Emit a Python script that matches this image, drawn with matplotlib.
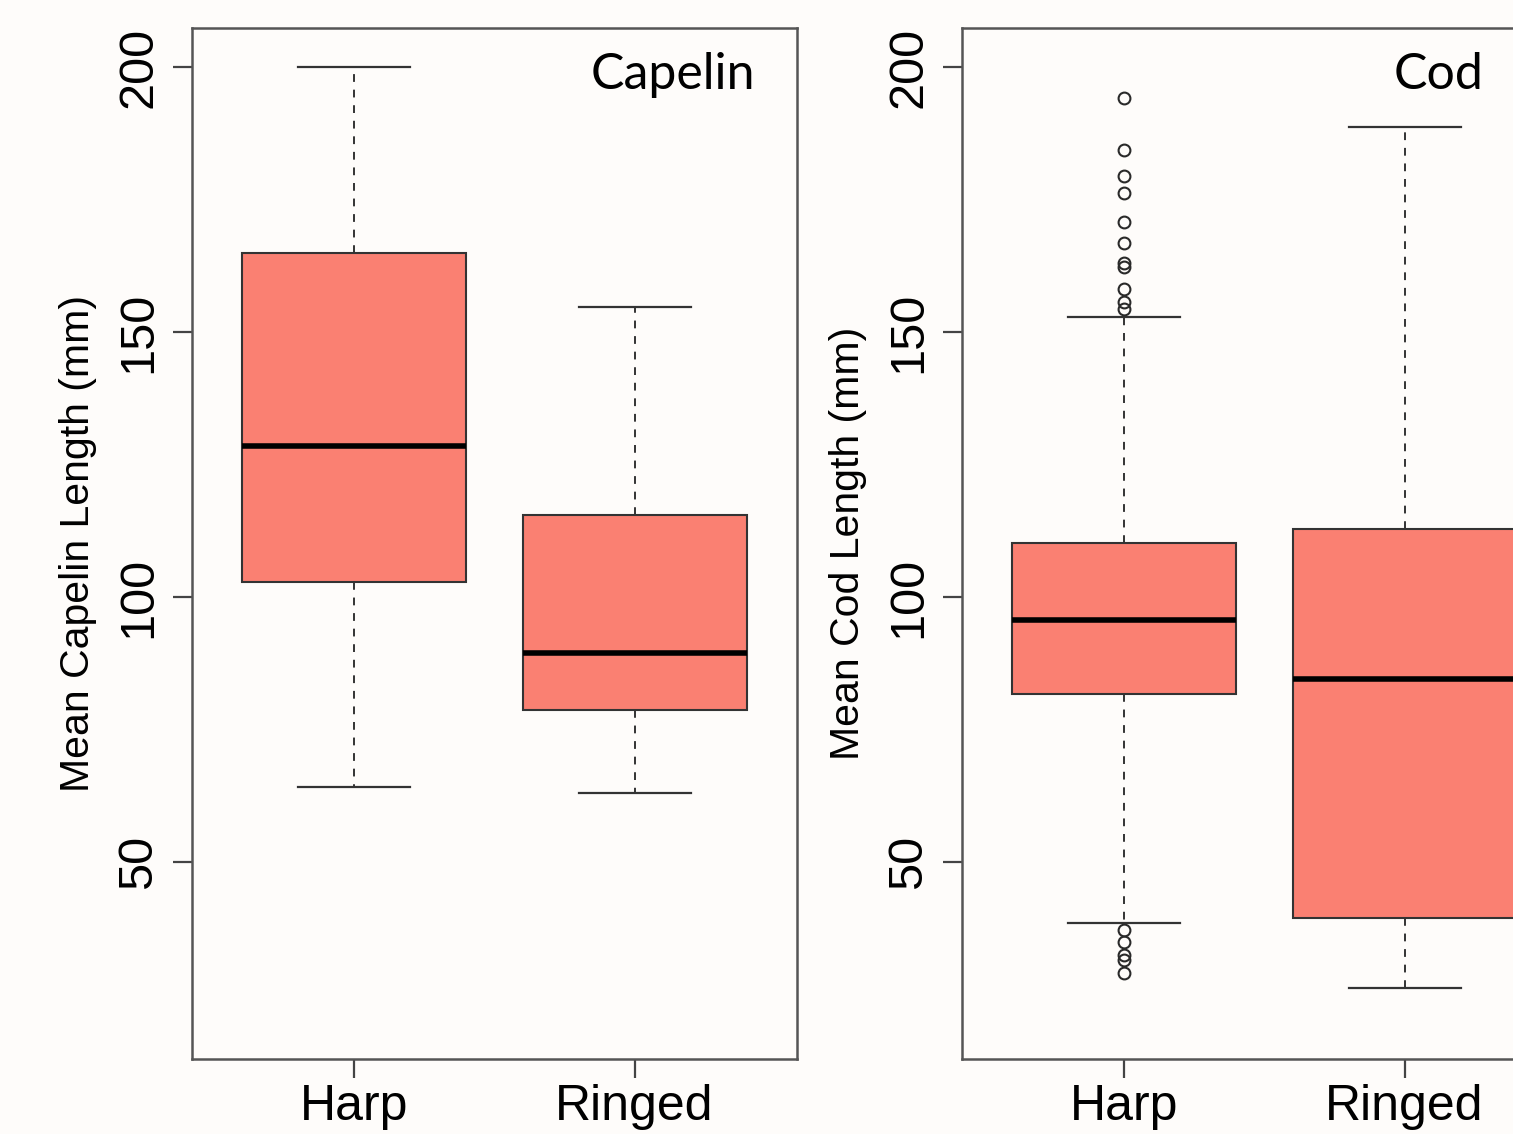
import matplotlib
matplotlib.use("Agg")
import matplotlib.pyplot as plt

# ---- data ----
groups = ["Harp", "Ringed"]
panels = ["Capelin", "Cod"]
ylabels = ["Mean Capelin Length (mm)", "Mean Cod Length (mm)"]
yticks = [50, 100, 150, 200]

capelin_whislo = [64.2, 63.0]
capelin_q1 = [102.8, 78.7]
capelin_med = [128.5, 89.4]
capelin_q3 = [164.9, 115.5]
capelin_whishi = [200.0, 154.7]
capelin_fliers = [[], []]

cod_whislo = [38.5, 26.2]
cod_q1 = [81.7, 39.4]
cod_med = [95.7, 84.5]
cod_q3 = [110.2, 112.8]
cod_whishi = [152.8, 188.7]
cod_fliers = [
    [194.2, 184.3, 179.4, 176.2, 170.8, 166.8, 163.0, 162.3, 158.1, 155.7, 154.3,
     37.2, 34.9, 32.5, 31.5, 29.1],
    [],
]

def stats(whislo, q1, med, q3, whishi, fliers):
    out = []
    for i in range(len(groups)):
        out.append(dict(whislo=whislo[i], q1=q1[i], med=med[i], q3=q3[i],
                        whishi=whishi[i], fliers=fliers[i], label=groups[i]))
    return out

all_stats = [
    stats(capelin_whislo, capelin_q1, capelin_med, capelin_q3, capelin_whishi, capelin_fliers),
    stats(cod_whislo, cod_q1, cod_med, cod_q3, cod_whishi, cod_fliers),
]

bg = "#fefcfa"
W, H = 1513, 1134
fig = plt.figure(figsize=(W / 100, H / 100), dpi=100, facecolor=bg)

ax_left_px = [192, 962]
ax_w_px = 605
ax_top_px, ax_bot_px = 28, 1059
title_right_px = [755, 1483]

tick_font = "Liberation Sans"
for k in range(2):
    ax = fig.add_axes([ax_left_px[k] / W, 1 - ax_bot_px / H,
                       ax_w_px / W, (ax_bot_px - ax_top_px) / H])
    ax.set_facecolor(bg)
    ax.bxp(all_stats[k], positions=[1, 2], widths=0.8, capwidths=0.4,
           patch_artist=True, showfliers=True,
           boxprops=dict(facecolor="#FA8072", edgecolor="#333333", linewidth=1.5),
           medianprops=dict(color="black", linewidth=4),
           whiskerprops=dict(color="#333333", linewidth=1.4, linestyle=(0, (4, 4))),
           capprops=dict(color="#333333", linewidth=1.6),
           flierprops=dict(marker="o", markerfacecolor="none", markeredgecolor="#2a2a2a",
                           markersize=8.5, markeredgewidth=1.5, linestyle="none"))
    ax.set_xlim(0.42, 2.58)
    ax.set_ylim(12.8, 207.4)
    ax.set_yticks(yticks)
    ax.set_yticklabels([str(v) for v in yticks], rotation=90, va="center",
                       fontsize=35, family=tick_font)
    ax.set_xticks([1, 2])
    ax.set_xticklabels(groups, fontsize=36, family=tick_font)
    ax.tick_params(axis="both", length=14, width=1.6, color="#444444", pad=8)
    ax.tick_params(axis="x", pad=4)
    for s in ax.spines.values():
        s.set_color("#555555")
        s.set_linewidth(1.8)
    ax.set_ylabel(ylabels[k], fontsize=29.5, family=tick_font, labelpad=14)
    ax.text(title_right_px[k] / W, 1 - 75 / H, panels[k], transform=fig.transFigure,
            ha="right", va="center", fontsize=36, family="Lato")

fig.savefig("out.png", dpi=100, facecolor=bg)
